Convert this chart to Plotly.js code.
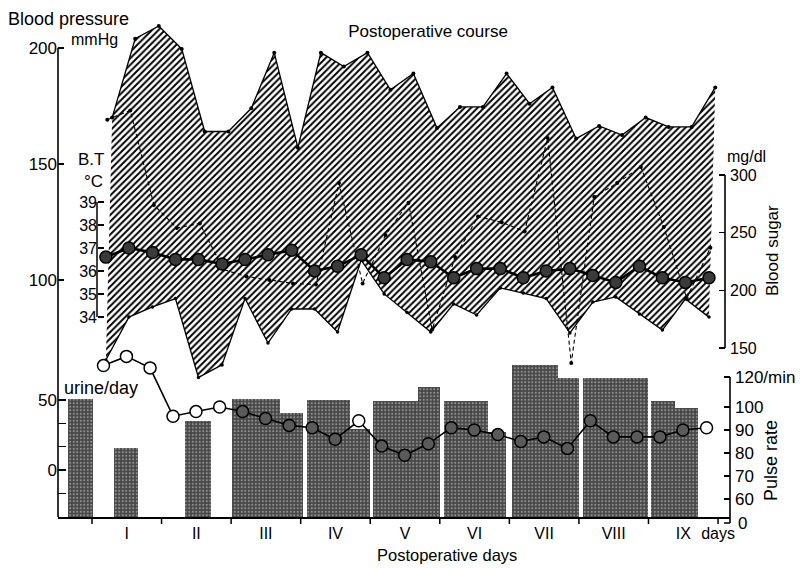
<!DOCTYPE html>
<html><head><meta charset="utf-8">
<script src="https://cdn.plot.ly/plotly-3.0.1.min.js"></script>
<style>html,body{margin:0;padding:0;background:#fff}#chart{width:800px;height:568px}</style>
</head><body><div id="chart"></div>
<script>
// ---------------- data ----------------
// measurement times, in postoperative days (3 readings a day)
const times = [0.2,0.53,0.87,1.2,1.53,1.87,2.2,2.53,2.87,3.2,3.53,3.87,4.2,4.53,4.87,5.2,5.53,5.87,6.2,6.53,6.87,7.2,7.53,7.87,8.2,8.53,8.87];
// blood pressure, mmHg
const bpSystolic  = [170,204,209.5,199.6,164,164,174,198,157,198,192,198,182,189,165.5,174.6,174.6,189,176,183,161,166.4,162.5,170,166,166,183];
const bpDiastolic = [65.5,84,88.4,92,58,63.4,92,72.8,87.5,87.5,77.6,108.6,94,86,77.6,89.7,84.9,96.6,94.4,92,77.2,90.5,92.7,85.3,78.4,91.8,84];
// body temperature, deg C
const bodyTemp = [36.6,37.0,36.8,36.5,36.5,36.3,36.5,36.7,36.9,36.0,36.2,36.7,35.7,36.5,36.4,35.7,36.1,36.1,35.7,36.0,36.1,35.8,35.5,36.2,35.7,35.5,35.7];
// blood sugar, mg/dl
const bloodSugar = [348,356,274,254,258,218,212,209,206,205,293,206,248,276,166,229,264,259,251,332,137,281,293,307,255,193,237];
// pulse rate, /min
const pulseRate = [118,122,117,96,98,100,98,95,92,91,86,94,83,79,84,91,90,88,85,87,82,94,87,87,87,90,91];
// urine per day (blocks: start day, end day, value on the urine scale)
const urineStart = [-0.35,0.32,1.34,2.01,2.70,3.09,3.71,4.04,4.69,5.06,5.69,6.04,6.70,7.06,8.04,8.38];
const urineEnd   = [0.01,0.66,1.71,2.70,3.03,3.71,4.00,4.69,5.00,5.69,5.95,6.70,7.00,7.99,8.38,8.71];
const urineValue = [51,16,35,51,41,50,29,49,59,49,27,75,66,66,49,44];
// axis labels
const dayLabels = ['I','II','III','IV','V','VI','VII','VIII','IX','days'];
const dayLabelPos = [0.5,1.5,2.5,3.5,4.5,5.5,6.5,7.5,8.5,9];
const dayBoundaries = [0,1,2,3,4,5,6,7,8,9];
const bpTicks = [100,150,200];
const btTicks = [34,35,36,37,38,39];
const bsTicks = [150,200,250,300];
const pulseTickVals = [60,70,80,90,100,113];
const pulseTickText = ['60','70','80','90','100','120/min'];
const urineTickVals = [50,33.3,16.7,0,-16.7];
const urineTickText = ['50','','','0',''];

// ---------------- layout geometry ----------------
const W = 800, H = 568;
const M = {l:58, r:70, t:20, b:51};
const PW = W - M.l - M.r, PH = H - M.t - M.b;
const xRange = [-0.4888, 9.172];
const bpRange = [-2.155, 212.07];
const urineRange = [-33.57, 321.43];
const bsRange = [3.46, 434.4];
const btRange = [25.30, 46.91];
const pulseRange = [52.17, 268.26];
const URINE_BASE = urineRange[0];
// small per-series time shifts (the scanned original is slightly skewed)
const shiftUpper = 0.09, shiftLower = 0.0, shiftPulse = -0.035, shiftBS = 0.02;

const px2paperX = p => (p - M.l) / PW;
const py2paperY = p => (M.t + PH - p) / PH;
const valToPy = (v, r) => M.t + PH - (v - r[0]) / (r[1] - r[0]) * PH;

const tUp = times.map(t => t + shiftUpper);
const tLow = times.map(t => t + shiftLower);
const tPulse = times.map(t => t + shiftPulse);
const tBS = times.map(t => t + shiftBS);

const BAR_COLOR = '#464646';
// pulse circles: hollow look -> take the colour of what lies behind them
const pulseFill = pulseRate.map((v, i) => {
  const t = tPulse[i];
  for (let j = 0; j < urineStart.length; j++) {
    if (t >= urineStart[j] && t <= urineEnd[j]) {
      if (valToPy(v, pulseRange) > valToPy(urineValue[j], urineRange)) return '#5a5a5a';
    }
  }
  return 'white';
});

const FONT = 'Liberation Sans, Arial, Helvetica, sans-serif';

const traces = [
  { // hatched blood-pressure band
    type:'scatter', mode:'lines', x: tUp.concat(tLow.slice().reverse()),
    y: bpSystolic.concat(bpDiastolic.slice().reverse()), fill:'toself',
    fillcolor:'white', fillpattern:{shape:'/', size:4.6, solidity:0.42, fgcolor:'#000', bgcolor:'#fff'},
    line:{width:0}, hoverinfo:'skip', showlegend:false, xaxis:'x', yaxis:'y'
  },
  {type:'scatter', mode:'lines+markers', x:tUp, y:bpSystolic, line:{color:'#000', width:1.3},
   marker:{size:4, color:'#000'}, showlegend:false, yaxis:'y'},
  {type:'scatter', mode:'lines+markers', x:tLow, y:bpDiastolic, line:{color:'#000', width:1.3},
   marker:{size:3.5, color:'#000'}, showlegend:false, yaxis:'y'},
  { // urine blocks
    type:'bar', x: urineStart.map((s,i)=>(s+urineEnd[i])/2), width: urineStart.map((s,i)=>urineEnd[i]-s),
    y: urineValue.map(v => v - URINE_BASE), base: URINE_BASE, yaxis:'y2',
    marker:{color:BAR_COLOR, line:{width:0}, pattern:{shape:'.', fgcolor:'#8e8e8e', bgcolor:BAR_COLOR, size:3.5, solidity:0.3}},
    showlegend:false, hoverinfo:'skip'
  },
  {type:'scatter', mode:'lines+markers', x:tBS, y:bloodSugar, yaxis:'y3',
   line:{color:'#000', width:1.1, dash:'4px,3px'}, marker:{size:4, color:'#000'}, showlegend:false},
  {type:'scatter', mode:'lines+markers', x:times, y:bodyTemp, yaxis:'y4',
   line:{color:'#000', width:2.6}, marker:{size:12, color:'#3a3a3a', line:{color:'#000', width:1.5}}, showlegend:false},
  {type:'scatter', mode:'lines+markers', x:tPulse, y:pulseRate, yaxis:'y5',
   line:{color:'#000', width:1.6}, marker:{size:12, color:pulseFill, line:{color:'#000', width:1.5}}, showlegend:false}
];

const tickCommon = {ticks:'inside', ticklen:6, tickwidth:1.5, tickcolor:'#000', showgrid:false, zeroline:false,
  showline:false, tickfont:{family:FONT, size:17, color:'#000'}, fixedrange:true};

const shapes = [];
// left vertical axis line (blood pressure / urine)
shapes.push({type:'line', xref:'paper', yref:'paper', x0:0, x1:0, y0:0, y1:py2paperY(valToPy(200, bpRange)), line:{color:'#000', width:1.6}});
// body temperature axis line
shapes.push({type:'line', xref:'paper', yref:'paper', x0:px2paperX(97), x1:px2paperX(97),
  y0:py2paperY(valToPy(34, btRange)), y1:py2paperY(valToPy(39, btRange)), line:{color:'#000', width:1.5}});
// blood sugar axis line
shapes.push({type:'line', xref:'paper', yref:'paper', x0:px2paperX(725), x1:px2paperX(725),
  y0:py2paperY(valToPy(150, bsRange)), y1:py2paperY(valToPy(300, bsRange)), line:{color:'#000', width:1.6}});
// pulse axis line and its "0" tick below the break
shapes.push({type:'line', xref:'paper', yref:'paper', x0:1, x1:1,
  y0:py2paperY(523), y1:py2paperY(valToPy(113, pulseRange)), line:{color:'#000', width:1.6}});
shapes.push({type:'line', xref:'paper', yref:'paper', x0:1-6/PW, x1:1, y0:py2paperY(523), y1:py2paperY(523), line:{color:'#000', width:1.5}});
// day boundary ticks on the time axis
dayBoundaries.forEach(d => shapes.push({type:'line', xref:'x', yref:'paper', x0:d, x1:d, y0:0, y1:-7/PH, line:{color:'#000', width:1.5}}));

const ann = (text, x, y, opts={}) => Object.assign({text, xref:'paper', yref:'paper', x:px2paperX(x), y:py2paperY(y),
  xanchor:'left', yanchor:'middle', showarrow:false, font:{family:FONT, size:17, color:'#000'}}, opts);

const annotations = [
  ann('Blood pressure', 6, 19, {font:{family:FONT, size:18, color:'#000'}}),
  ann('mmHg', 69, 39, {font:{family:FONT, size:16, color:'#000'}}),
  ann('B.T', 76, 160),
  ann('°C', 82, 181),
  ann('mg/dl', 725, 156, {font:{family:FONT, size:16, color:'#000'}}),
  ann('Blood sugar', 772, 251, {xanchor:'center', textangle:-90}),
  ann('urine/day', 62, 388, {font:{family:FONT, size:18, color:'#000'}}),
  ann('Pulse rate', 771, 460, {xanchor:'center', textangle:-90, font:{family:FONT, size:18, color:'#000'}}),
  ann('0', 736, 523),
  ann('Postoperative days', 447, 555, {xanchor:'center', font:{family:FONT, size:16.5, color:'#000'}})
];

const layout = {
  width:W, height:H, margin:M, paper_bgcolor:'#fff', plot_bgcolor:'rgba(0,0,0,0)', showlegend:false,
  font:{family:FONT, color:'#000'},
  title:{text:'Postoperative course', x:428/W, xref:'container', xanchor:'center', y:1-31/H, yref:'container', yanchor:'middle',
    font:{family:FONT, size:17, color:'#000'}},
  xaxis:{range:xRange, showline:true, linecolor:'#000', linewidth:1.6, tickvals:dayLabelPos, ticktext:dayLabels,
    ticks:'', showgrid:false, zeroline:false, ticklabelstandoff:1, tickfont:{family:FONT, size:16, color:'#000'}, fixedrange:true},
  yaxis: Object.assign({}, tickCommon, {range:bpRange, tickvals:bpTicks, side:'left'}),
  yaxis2: Object.assign({}, tickCommon, {range:urineRange, tickvals:urineTickVals, ticktext:urineTickText, ticklen:8,
    overlaying:'y', side:'left', anchor:'x'}),
  yaxis3: Object.assign({}, tickCommon, {range:bsRange, tickvals:bsTicks, overlaying:'y', side:'right', anchor:'free',
    position:px2paperX(725), ticklabelstandoff:4, tickfont:{family:FONT, size:16, color:'#000'}}),
  yaxis4: Object.assign({}, tickCommon, {range:btRange, tickvals:btTicks, overlaying:'y', side:'left', anchor:'free',
    position:px2paperX(97), tickfont:{family:FONT, size:16, color:'#000'}}),
  yaxis5: Object.assign({}, tickCommon, {range:pulseRange, tickvals:pulseTickVals, ticktext:pulseTickText, overlaying:'y',
    side:'right', anchor:'free', position:1, ticklabelstandoff:4}),
  shapes, annotations, bargap:0
};

Plotly.newPlot('chart', traces, layout, {displayModeBar:false, staticPlot:true});
</script>
</body></html>
